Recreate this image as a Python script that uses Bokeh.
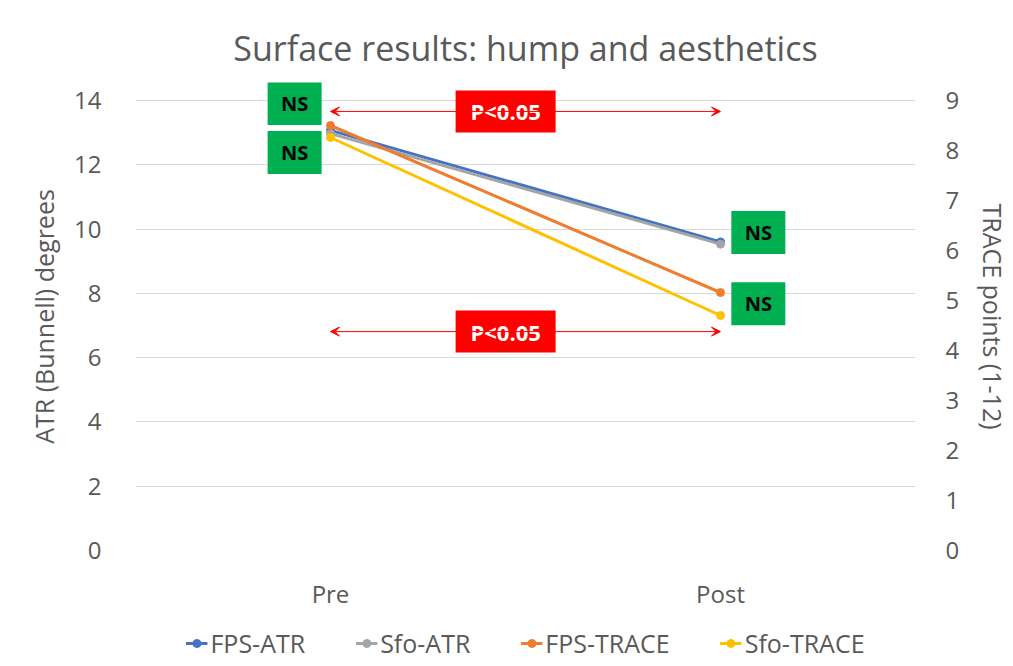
from bokeh.plotting import figure
from bokeh.layouts import column
from bokeh.models import (Range1d, LinearAxis, FixedTicker, Arrow, VeeHead,
                          Legend, LegendItem, ColumnDataSource)
from bokeh.core.properties import value
from bokeh.embed import file_html
from bokeh.resources import INLINE

# ---- data ----
phases = ["Pre", "Post"]
phase_x = [0.5, 1.5]
fps_atr = [13.07, 9.6]
sfo_atr = [12.97, 9.53]
fps_trace = [8.5, 5.16]
sfo_trace = [8.26, 4.7]
left_ticks = [0, 2, 4, 6, 8, 10, 12, 14]
right_ticks = [0, 1, 2, 3, 4, 5, 6, 7, 8, 9]

# annotations (left-axis units)
ns_x = [0.408, 0.408, 1.597, 1.597]
ns_y = [13.91, 12.38, 9.89, 7.68]
p_x = [0.949, 0.949]
p_y = [13.66, 6.81]

FONT = "Open Sans"
TXT = "#595959"

LEFT_MAX = 14.56
RIGHT_MAX = 9 * LEFT_MAX / 14

p = figure(frame_width=780, frame_height=468,
           x_range=Range1d(0, 2), y_range=Range1d(0, LEFT_MAX),
           output_backend="svg", toolbar_location=None,
           min_border_left=135, min_border_right=98,
           min_border_top=82, min_border_bottom=68,
           title="Surface results: hump and aesthetics")
p.extra_y_ranges = {"trace": Range1d(0, RIGHT_MAX)}
p.outline_line_color = None
p.background_fill_color = "white"
p.border_fill_color = "white"

p.title.align = "center"
p.title.text_font = FONT
p.title.text_font_size = "34px"
p.title.text_font_style = "normal"
p.title.text_color = TXT
p.title.offset = -9
p.title.standoff = 24

# axes
p.xaxis.ticker = FixedTicker(ticks=phase_x)
p.xaxis.major_label_overrides = {0.5: phases[0], 1.5: phases[1]}
p.yaxis.ticker = FixedTicker(ticks=left_ticks)
p.yaxis.axis_label = "ATR (Bunnell) degrees"

ax_r = LinearAxis(y_range_name="trace", ticker=FixedTicker(ticks=right_ticks),
                  axis_label="TRACE points (1-12)")
p.add_layout(ax_r, "right")

for ax in [p.xaxis[0], p.yaxis[0], ax_r]:
    ax.axis_line_color = None
    ax.major_tick_line_color = None
    ax.minor_tick_line_color = None
    ax.major_label_text_font = FONT
    ax.major_label_text_font_size = "24px"
    ax.major_label_text_color = TXT
    ax.axis_label_text_font = FONT
    ax.axis_label_text_font_size = "25px"
    ax.axis_label_text_font_style = "normal"
    ax.axis_label_text_color = TXT
p.xaxis.major_label_standoff = 20
p.yaxis.major_label_standoff = 28
ax_r.major_label_standoff = 24
p.yaxis.axis_label_standoff = 10
ax_r.axis_label_standoff = 14

p.xgrid.grid_line_color = None
p.ygrid.grid_line_color = "#d9d9d9"
p.ygrid.ticker = FixedTicker(ticks=left_ticks)

# legend strip figure
lg = figure(width=1013, height=50, x_range=Range1d(10, 11), y_range=Range1d(10, 11),
            x_axis_type=None, y_axis_type=None, output_backend="svg",
            toolbar_location=None, min_border=0)
lg.outline_line_color = None
lg.grid.grid_line_color = None
lg.border_fill_color = "white"

# series
series = [
    ("FPS-ATR", fps_atr, "#4472C4", "default"),
    ("Sfo-ATR", sfo_atr, "#A5A5A5", "default"),
    ("FPS-TRACE", fps_trace, "#ED7D31", "trace"),
    ("Sfo-TRACE", sfo_trace, "#FFC000", "trace"),
]
items = []
for name, vals, col, rng in series:
    src = ColumnDataSource(dict(x=phase_x, y=vals))
    p.line("x", "y", source=src, line_color=col, line_width=3, y_range_name=rng)
    p.scatter("x", "y", source=src, size=8, fill_color=col, line_color=col,
              y_range_name=rng)
    l2 = lg.line("x", "y", source=src, line_color=col, line_width=3)
    c2 = lg.scatter("x", "y", source=src, size=7, fill_color=col, line_color=col)
    items.append(LegendItem(label=name, renderers=[l2, c2]))

# arrows
for yy in p_y:
    p.add_layout(Arrow(x_start=phase_x[0], x_end=phase_x[1], y_start=yy, y_end=yy,
                       line_color="#FF0000", line_width=1,
                       start=VeeHead(size=9, line_color="#FF0000", fill_color="#FF0000", line_width=1),
                       end=VeeHead(size=9, line_color="#FF0000", fill_color="#FF0000", line_width=1)))

# NS boxes
p.rect(x=ns_x, y=ns_y, width=54, height=43, width_units="screen", height_units="screen",
       fill_color="#00B050", line_color=None)
p.text(x=ns_x, y=ns_y, text=["NS"] * 4, text_align="center", text_baseline="middle",
       text_font=value(FONT), text_font_style="bold", text_font_size="20px",
       text_color="black")

# P boxes
p.rect(x=p_x, y=p_y, width=100, height=42, width_units="screen", height_units="screen",
       fill_color="#FF0000", line_color=None)
p.text(x=p_x, y=p_y, text=["P<0.05"] * 2, text_align="center", text_baseline="middle",
       text_font=value(FONT), text_font_style="bold", text_font_size="22px",
       text_color="white")

legend = Legend(items=items, orientation="horizontal", location="center",
                label_text_font=FONT, label_text_font_size="25px",
                label_text_color=TXT, border_line_color=None,
                background_fill_alpha=0,
                glyph_width=22, glyph_height=20, spacing=50, margin=0, padding=2,
                label_standoff=3)
lg.add_layout(legend, "center")

layout = column(p, lg, spacing=0)
open("out.html", "w").write(file_html(layout, INLINE))
